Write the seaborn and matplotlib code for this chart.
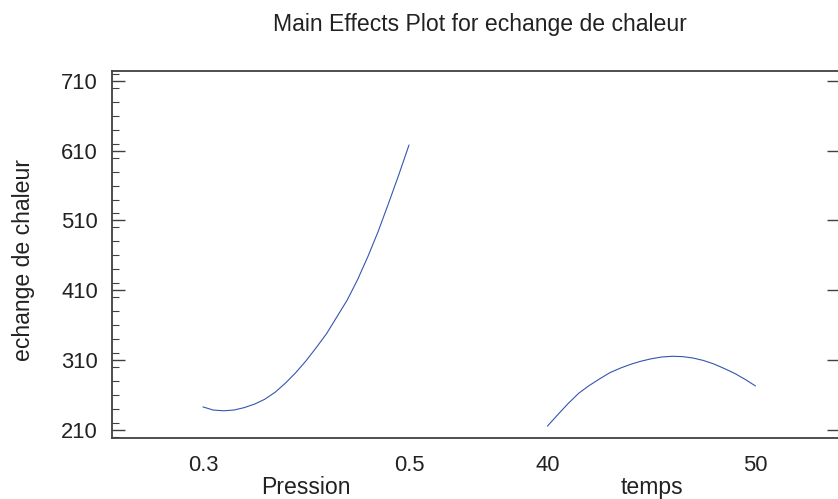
import matplotlib
matplotlib.use("Agg")
import matplotlib.pyplot as plt
import seaborn as sns
import numpy as np
import pandas as pd
from matplotlib.ticker import MultipleLocator, FixedLocator

sns.set_theme(style="white")
plt.rcParams['font.family'] = ['Liberation Sans', 'DejaVu Sans']

title = "Main Effects Plot for echange de chaleur"
ylabel = "echange de chaleur"
factor_names = ["Pression", "temps"]

pression = [0.30, 0.31, 0.32, 0.33, 0.34, 0.35, 0.36, 0.37, 0.38, 0.39, 0.40,
            0.41, 0.42, 0.43, 0.44, 0.45, 0.46, 0.47, 0.48, 0.49, 0.50]
pression_effect = [243, 238.5, 237.5, 238.5, 242, 247, 254, 264, 277, 292, 309,
                   328, 348, 372, 396, 425, 458, 494, 534, 575, 618]

temps = [40.0, 40.5, 41.0, 41.5, 42.0, 42.5, 43.0, 43.5, 44.0, 44.5, 45.0,
         45.5, 46.0, 46.5, 47.0, 47.5, 48.0, 48.5, 49.0, 49.5, 50.0]
temps_effect = [215.5, 232, 248, 262.5, 273.5, 283, 292, 298.5, 304, 308.5, 312,
                314.5, 315.5, 315, 313, 309.5, 304.5, 298, 291, 282.5, 273]

pression_ticks = [0.3, 0.5]
temps_ticks = [40, 50]
y_ticks = [210, 310, 410, 510, 610, 710]

# each factor occupies its own panel on a shared x axis
p_lo, p_hi = 0.3, 0.5
t_lo, t_hi = 40, 50
p_start, p_width = 0.0, 1.0
t_start, t_width = 1.672, 1.01

def p_pos(v):
    return p_start + (np.asarray(v, float) - p_lo) / (p_hi - p_lo) * p_width

def t_pos(v):
    return t_start + (np.asarray(v, float) - t_lo) / (t_hi - t_lo) * t_width

df = pd.concat([
    pd.DataFrame({"pos": p_pos(pression), "effect": pression_effect, "factor": "Pression"}),
    pd.DataFrame({"pos": t_pos(temps), "effect": temps_effect, "factor": "temps"}),
])

W, H = 838, 499
fig = plt.figure(figsize=(W / 100, H / 100), dpi=100)
ax = fig.add_axes([112 / W, 1 - 438 / H, (840 - 112) / W, (438 - 71) / H])

line_color = "#3556b0"
sns.lineplot(data=df, x="pos", y="effect", units="factor", estimator=None,
             color=line_color, linewidth=0.8, ax=ax, sort=False)

ax.set_xlim((112 - 203) / 206.0, (840 - 203) / 206.0)
ax.set_ylim(198.5, 724)

spine_c = "#404040"
for s in ["left", "bottom", "top"]:
    ax.spines[s].set_color(spine_c)
    ax.spines[s].set_linewidth(1.3)
ax.spines["right"].set_visible(False)

ax.yaxis.set_major_locator(FixedLocator(y_ticks))
ax.yaxis.set_minor_locator(MultipleLocator(20))
ax.tick_params(axis="y", which="major", direction="in", length=9.5, width=1.0,
               color=spine_c, left=True, right=True, labelsize=15.8, pad=10,
               labelcolor="#222222")
ax.tick_params(axis="y", which="minor", direction="in", length=5, width=0.8,
               color=spine_c, left=True, right=False)

xt = list(p_pos(pression_ticks)) + list(t_pos(temps_ticks))
ax.set_xticks(xt)
ax.set_xticklabels([str(v) for v in pression_ticks] + [str(v) for v in temps_ticks])
ax.tick_params(axis="x", which="both", length=0, labelsize=15.8, pad=12,
               labelcolor="#222222")
ax.set_xlabel("")
ax.set_ylabel("")

fig.text(480 / W, 1 - 31.5 / H, title, ha="center", va="baseline",
         fontsize=16.6, color="#222222")
fig.text(23.5 / W, 1 - 260 / H, ylabel, rotation=90, ha="center", va="center",
         fontsize=16.6, color="#222222")
fig.text(306 / W, 1 - 494 / H, factor_names[0], ha="center", va="baseline",
         fontsize=16.6, color="#222222")
fig.text(652 / W, 1 - 494 / H, factor_names[1], ha="center", va="baseline",
         fontsize=16.6, color="#222222")

fig.savefig("out.png", dpi=100)
